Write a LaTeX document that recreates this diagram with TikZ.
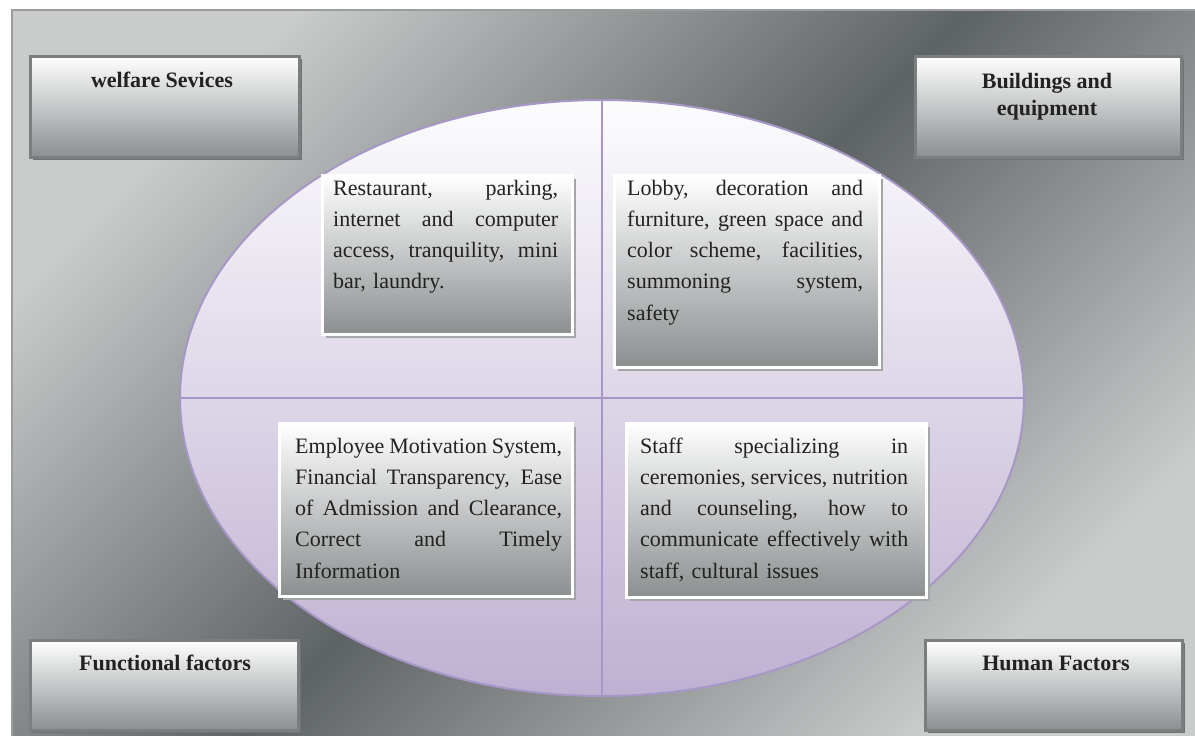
\documentclass[tikz,border=0pt]{standalone}
\usepackage{fontspec}
\setmainfont{Liberation Serif}
\usetikzlibrary{shapes.geometric,shadows}
\setlength{\parindent}{0pt}
\definecolor{bglight}{HTML}{CACCCC}
\definecolor{bgdark}{HTML}{5E6365}
\definecolor{frameline}{HTML}{9A9C9D}
\definecolor{ellline}{HTML}{A797C7}
\definecolor{elltop}{HTML}{FCFCFD}
\definecolor{ellbot}{HTML}{BEB0D2}
\definecolor{boxbot}{HTML}{8C8F90}
\definecolor{boxmid}{HTML}{C4C6C7}
\definecolor{ishadow}{HTML}{A4A5A6}
\definecolor{tshadow}{HTML}{707374}
\definecolor{titleedge}{HTML}{7B7E7F}
\definecolor{textcol}{HTML}{222222}
\newcommand\jline[1]{\makebox[\hsize][s]{\spaceskip=0pt\xspaceskip=0pt #1}}
\tikzset{
  tbox/.style={rectangle, draw=titleedge, line width=2.5pt, top color=white, bottom color=boxbot, middle color=boxmid, inner sep=0pt, anchor=north west,
    drop shadow={shadow xshift=3pt, shadow yshift=-3pt, fill=tshadow, opacity=1}},
  ibox/.style={rectangle, draw=white, line width=2.5pt, top color=white, bottom color=boxbot, middle color=boxmid, inner sep=0pt, anchor=north west,
    drop shadow={shadow xshift=4pt, shadow yshift=-4pt, fill=ishadow, opacity=1}},
  ttext/.style={font=\fontsize{22}{27}\selectfont\bfseries, text=textcol, align=center, anchor=base, inner sep=0pt},
  itext/.style={font=\fontsize{22}{31.3}\selectfont, text=textcol, align=left, anchor=base west, inner sep=0pt},
  divider/.style={draw=ellline, line width=2.5pt},
}
\begin{document}
\begin{tikzpicture}[x=1pt,y=-1pt]
\useasboundingbox (0,0) rectangle (1195,736);
% background
\fill[white] (0,0) rectangle (1195,736);
\shade[top color=bglight, bottom color=bglight, middle color=bgdark, shading angle=45] (12,10) rectangle (1200,740);
\draw[frameline, line width=2pt] (12,740) -- (12,10) -- (1200,10);
% ellipse
\node[ellipse, draw=ellline, line width=2pt, top color=elltop, bottom color=ellbot, minimum width=844pt, minimum height=596pt, inner sep=0pt] (ell) at (602,398) {};
\draw[divider] (ell.north) -- (ell.south);
\draw[divider] (ell.west) -- (ell.east);
% title boxes
\node[tbox, minimum width=269pt, minimum height=101pt] (wsbox) at (29,55) {};
\node[tbox, minimum width=266pt, minimum height=101pt] (bebox) at (914,55) {};
\node[tbox, minimum width=268pt, minimum height=90pt] (ffbox) at (29,639) {};
\node[tbox, minimum width=257pt, minimum height=90pt] (hfbox) at (924,639) {};
\node[ttext] (wst) at (162,87) {welfare Sevices};
\node[ttext] (bet) at (1047,115) {Buildings and\\equipment};
\node[ttext] (fft) at (165,670) {Functional factors};
\node[ttext] (hft) at (1056,670) {Human Factors};
% inner boxes
\node[ibox, minimum width=250pt, minimum height=159pt] (rbox) at (321,174) {};
\node[ibox, minimum width=265pt, minimum height=192pt] (lbox) at (613,174) {};
\node[ibox, minimum width=293pt, minimum height=173pt] (ebox) at (278,422) {};
\node[ibox, minimum width=300pt, minimum height=174pt] (sbox) at (625,422) {};
\node[itext, text width=225pt] (rtext) at (333,195) {\jline{Restaurant, parking,}\\\jline{internet and computer}\\\jline{access, tranquility, mini}\\bar, laundry.};
\node[itext, text width=236pt] (ltext) at (627,195) {\jline{Lobby, decoration and}\\\jline{furniture, green space and}\\\jline{color scheme, facilities,}\\\jline{summoning system,}\\safety};
\node[itext, text width=267pt] (etext) at (295,453) {\jline{Employee Motivation System,}\\\jline{Financial Transparency, Ease}\\\jline{of Admission and Clearance,}\\\jline{Correct and Timely}\\Information};
\node[itext, text width=268pt] (stext) at (640,453) {\jline{Staff specializing in}\\\jline{ceremonies, services, nutrition}\\\jline{and counseling, how to}\\\jline{communicate effectively with}\\staff, cultural issues};
\end{tikzpicture}
\end{document}
